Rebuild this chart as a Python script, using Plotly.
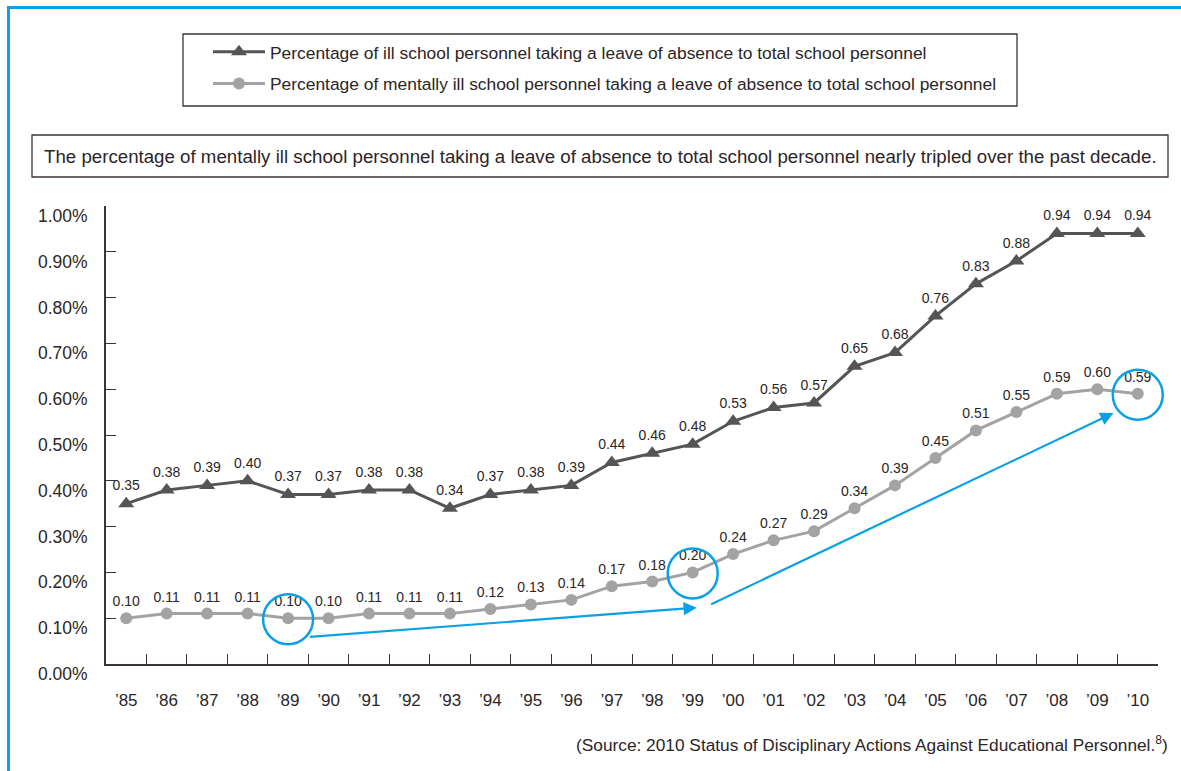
import plotly.graph_objects as go

# Survey years (category labels on the x axis)
years = ["’85", "’86", "’87", "’88", "’89", "’90", "’91", "’92", "’93", "’94",
         "’95", "’96", "’97", "’98", "’99", "’00", "’01", "’02", "’03", "’04",
         "’05", "’06", "’07", "’08", "’09", "’10"]

# Share of ill personnel on leave (% of all school personnel)
ill_pct = [0.35, 0.38, 0.39, 0.40, 0.37, 0.37, 0.38, 0.38, 0.34, 0.37,
           0.38, 0.39, 0.44, 0.46, 0.48, 0.53, 0.56, 0.57, 0.65, 0.68,
           0.76, 0.83, 0.88, 0.94, 0.94, 0.94]

# Share of mentally ill personnel on leave (% of all school personnel)
mental_pct = [0.10, 0.11, 0.11, 0.11, 0.10, 0.10, 0.11, 0.11, 0.11, 0.12,
              0.13, 0.14, 0.17, 0.18, 0.20, 0.24, 0.27, 0.29, 0.34, 0.39,
              0.45, 0.51, 0.55, 0.59, 0.60, 0.59]

y_ticks = [0.0, 0.1, 0.2, 0.3, 0.4, 0.5, 0.6, 0.7, 0.8, 0.9, 1.0]
highlight_years = ["’89", "’99", "’10"]

series_names = [
    "Percentage of ill school personnel taking a leave of absence to total school personnel",
    "Percentage of mentally ill school personnel taking a leave of absence to total school personnel",
]
headline = ("The percentage of mentally ill school personnel taking a leave of absence "
            "to total school personnel nearly tripled over the past decade.")
source = "(Source: 2010 Status of Disciplinary Actions Against Educational Personnel.<sup>8</sup>)"

FONT = "Liberation Sans, Arial, Helvetica, sans-serif"
TEXT = "#2b2526"
DARK = "#555555"
LIGHT = "#a3a3a3"
CYAN = "#0aa0e6"
RULE = "#3d3535"

fig = go.Figure()

fig.add_trace(go.Scatter(
    x=years, y=ill_pct, name=series_names[0], legendgroup="a",
    mode="lines+markers+text",
    line=dict(color=DARK, width=3),
    marker=dict(symbol="triangle-up", size=14, color=DARK),
    text=[f"{v:.2f}" for v in ill_pct], textposition="top center",
    textfont=dict(family=FONT, size=14, color=TEXT),
    cliponaxis=False,
))
fig.add_trace(go.Scatter(
    x=years, y=mental_pct, name=series_names[1], legendgroup="b",
    mode="lines+markers+text",
    line=dict(color=LIGHT, width=3),
    marker=dict(symbol="circle", size=12, color=LIGHT),
    text=[f"{v:.2f}" for v in mental_pct], textposition="top center",
    textfont=dict(family=FONT, size=14, color=TEXT),
    cliponaxis=False,
))

shapes = []
annotations = []

# Pixel-offset helper: shapes positioned relative to the plot's top-left corner
def px_shape(kind, x0, x1, y0, y1, **kw):
    return dict(type=kind, xref="paper", yref="paper", xsizemode="pixel", ysizemode="pixel",
                xanchor=0, yanchor=1, x0=x0, x1=x1, y0=y0, y1=y1, **kw)

# Outer frame (top and left rules)
shapes.append(px_shape("line", -98, 1200, 198.5, 198.5, line=dict(color=CYAN, width=3)))
shapes.append(px_shape("line", -97.5, -97.5, 200, -580, line=dict(color=CYAN, width=3)))

# Legend frame
shapes.append(px_shape("rect", 77, 911, 172, 100,
                       line=dict(color=RULE, width=1.3), fillcolor="rgba(0,0,0,0)"))

# Headline box
shapes.append(px_shape("rect", -74, 1062, 71, 29,
                       line=dict(color=RULE, width=1.3), fillcolor="rgba(0,0,0,0)"))
annotations.append(dict(xref="paper", yref="paper", x=0, y=1, xshift=-74 + 568, yshift=50,
                        text=headline, showarrow=False, xanchor="center", yanchor="middle",
                        font=dict(family=FONT, size=18.7, color=TEXT)))

# Y tick labels
for v in y_ticks:
    annotations.append(dict(xref="paper", yref="y", x=0, y=v, text=f"{v:.2f}%",
                            showarrow=False, xanchor="right", yanchor="middle",
                            xshift=-16, yshift=-10,
                            font=dict(family=FONT, size=17.5, color=TEXT)))

# Highlight rings around key mental-health values
n = len(years)
for yr in highlight_years:
    i = years.index(yr)
    shapes.append(dict(type="circle", xref="paper", yref="y", xsizemode="pixel", ysizemode="pixel",
                       xanchor=(i + 0.5) / n, yanchor=mental_pct[i], x0=-25, x1=25, y0=-26, y1=24,
                       line=dict(color=CYAN, width=2.5)))

# Trend arrows between highlighted points
i89, i99, i10 = (years.index(y) for y in highlight_years)
annotations.append(dict(xref="x", yref="y", axref="x", ayref="y",
                        x=i99 + 0.1, y=mental_pct[i99] - 0.077,
                        ax=i89 + 0.5, ay=mental_pct[i89] - 0.041,
                        showarrow=True, arrowhead=2, arrowsize=1.2, arrowwidth=2.2,
                        arrowcolor=CYAN, text=""))
annotations.append(dict(xref="x", yref="y", axref="x", ayref="y",
                        x=i10 - 0.6, y=mental_pct[i10] - 0.042,
                        ax=i99 + 0.42, ay=mental_pct[i99] - 0.071,
                        showarrow=True, arrowhead=2, arrowsize=1.2, arrowwidth=2.2,
                        arrowcolor=CYAN, text=""))

# Source line
annotations.append(dict(xref="paper", yref="paper", x=1, y=0, xshift=12, yshift=-80,
                        text=source, showarrow=False, xanchor="right", yanchor="middle",
                        font=dict(family=FONT, size=17.3, color=TEXT)))

fig.update_layout(
    width=1181, height=771,
    margin=dict(l=106, r=23, t=206, b=107),
    paper_bgcolor="white", plot_bgcolor="white",
    font=dict(family=FONT, color=TEXT),
    showlegend=True,
    legend=dict(x=(208 - 106) / 1052, y=1.3755, xanchor="left", yanchor="top",
                borderwidth=0, bgcolor="rgba(0,0,0,0)",
                font=dict(family=FONT, size=17.4, color=TEXT),
                traceorder="grouped", tracegroupgap=6, itemwidth=52),
    xaxis=dict(type="category", tickson="boundaries", ticks="inside", ticklen=10,
               tickcolor=RULE, tickwidth=1.3, showline=True, linecolor=RULE,
               linewidth=1.5, showgrid=False, zeroline=False,
               tickfont=dict(family=FONT, size=17, color=TEXT), ticklabelstandoff=20,
               range=[-0.5, n - 0.5]),
    yaxis=dict(range=[0, 1.0], tickvals=y_ticks, ticks="inside", ticklen=10,
               tickcolor=RULE, tickwidth=1.3, showline=True, linecolor=RULE,
               linewidth=1.5, showgrid=False, zeroline=False, showticklabels=False),
    shapes=shapes, annotations=annotations,
)

fig.write_html("out.html")
